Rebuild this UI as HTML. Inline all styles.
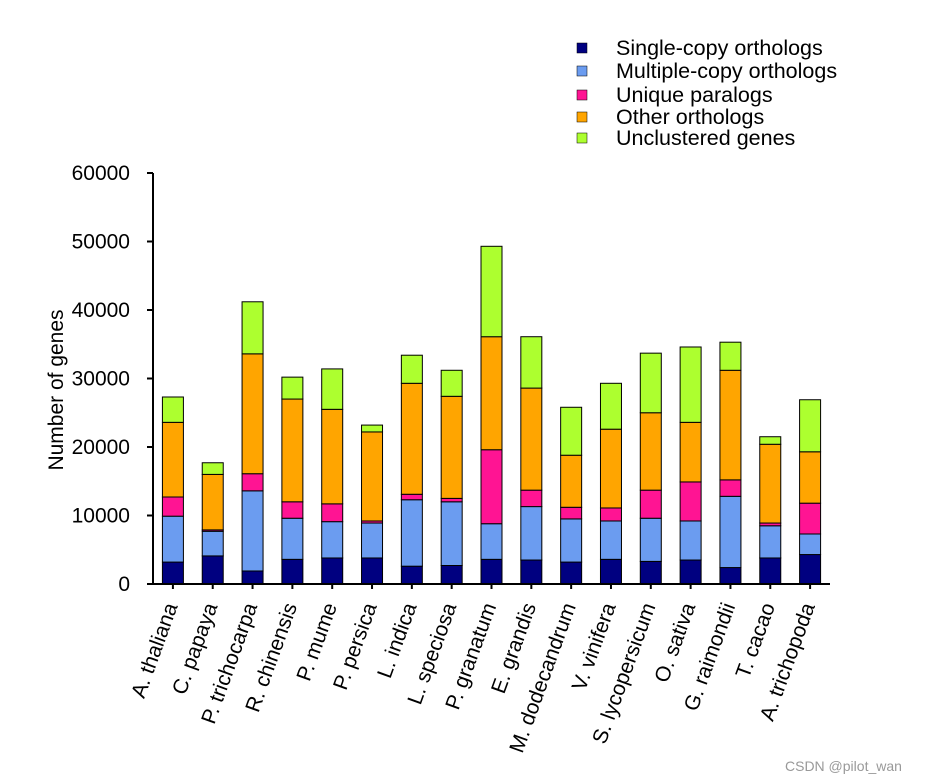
<!DOCTYPE html>
<html><head><meta charset="utf-8">
<style>
html,body{margin:0;padding:0;background:#fff;}
svg{display:block;font-family:"Liberation Sans",Arial,sans-serif;}
</style></head>
<body>
<svg id="chart" width="928" height="779" viewBox="0 0 928 779" xmlns="http://www.w3.org/2000/svg">
<text x="785" y="771" font-size="14" fill="#999">CSDN @pilot_wan</text>
</svg>
<script>
const species = ["A. thaliana","C. papaya","P. trichocarpa","R. chinensis","P. mume","P. persica","L. indica","L. speciosa","P. granatum","E. grandis","M. dodecandrum","V. vinifera","S. lycopersicum","O. sativa","G. raimondii","T. cacao","A. trichopoda"];
const singleCopy   = [3200,4100,1900,3600,3800,3800,2600,2700,3600,3500,3200,3600,3300,3500,2400,3800,4300];
const multiCopy    = [6700,3600,11700,6000,5300,5100,9700,9300,5200,7800,6300,5600,6300,5700,10400,4700,3000];
const uniqueParalogs=[2800,200,2500,2400,2600,300,800,500,10800,2400,1700,1900,4100,5700,2400,400,4500];
const otherOrthologs=[10900,8100,17500,15000,13800,13000,16200,14900,16500,14900,7600,11500,11300,8700,16000,11500,7500];
const unclustered  = [3700,1700,7600,3200,5900,1000,4100,3800,13200,7500,7000,6700,8700,11000,4100,1100,7600];
const seriesNames = ["Single-copy orthologs","Multiple-copy orthologs","Unique paralogs","Other orthologs","Unclustered genes"];
const yTicks = [0,10000,20000,30000,40000,50000,60000];

const series=[singleCopy,multiCopy,uniqueParalogs,otherOrthologs,unclustered];
const colors=["#000080","#6b9cf0","#ff1493","#ffa500","#adff2f"];
const NS="http://www.w3.org/2000/svg";
const svg=document.getElementById('chart');
const x0=153,x1=830,y0=584,y1=173,yMax=60000;
const band=(x1-x0)/species.length, bw=21;
const yS=v=>y0-(v/yMax)*(y0-y1);
const xC=i=>x0+(i+0.5)*band;
function mk(t,a){const e=document.createElementNS(NS,t);for(const k in a)e.setAttribute(k,a[k]);svg.appendChild(e);return e;}

species.forEach((s,i)=>{
  let cum=0;
  series.forEach((arr,j)=>{
    const v=arr[i];
    const r=mk('rect',{x:xC(i)-bw/2,y:yS(cum+v),width:bw,height:yS(cum)-yS(cum+v),fill:colors[j],stroke:'#000','stroke-width':1});
    
    
    cum+=v;
  });
  const t=mk('text',{x:0,y:0,'font-size':21,'text-anchor':'end',transform:`translate(${xC(i)+5},${y0+22}) rotate(-70)`});
  t.textContent=s;
  
  
  const tk=mk('line',{x1:xC(i),x2:xC(i),y1:y0,y2:y0+5,stroke:'#000','stroke-width':2});
  
  
});
const ya=mk('line',{x1:x0,x2:x0,y1:y1,y2:y0+1,stroke:'#000','stroke-width':2});


const xa=mk('line',{x1:x0-1,x2:x1,y1:y0,y2:y0,stroke:'#000','stroke-width':2});


yTicks.forEach(v=>{
  const l=mk('line',{x1:x0-6,x2:x0,y1:yS(v),y2:yS(v),stroke:'#000','stroke-width':2});
  
  
  const t=mk('text',{x:130,y:yS(v)+7,'font-size':21,'text-anchor':'end'});
  t.textContent=v;
  
  
});
const yt=mk('text',{x:0,y:0,'font-size':21,'text-anchor':'middle',transform:'translate(63,390) rotate(-90)'});
yt.textContent='Number of genes';


const ly=[48,71,95,117,138];
seriesNames.forEach((n,j)=>{
  const r=mk('rect',{x:577,y:ly[j]-5,width:10,height:10,fill:colors[j],stroke:'#000','stroke-width':0.5});
  
  
  const t=mk('text',{x:616,y:ly[j]+7,'font-size':21.5});
  t.textContent=n;
  
  
});
</script>
</body></html>
